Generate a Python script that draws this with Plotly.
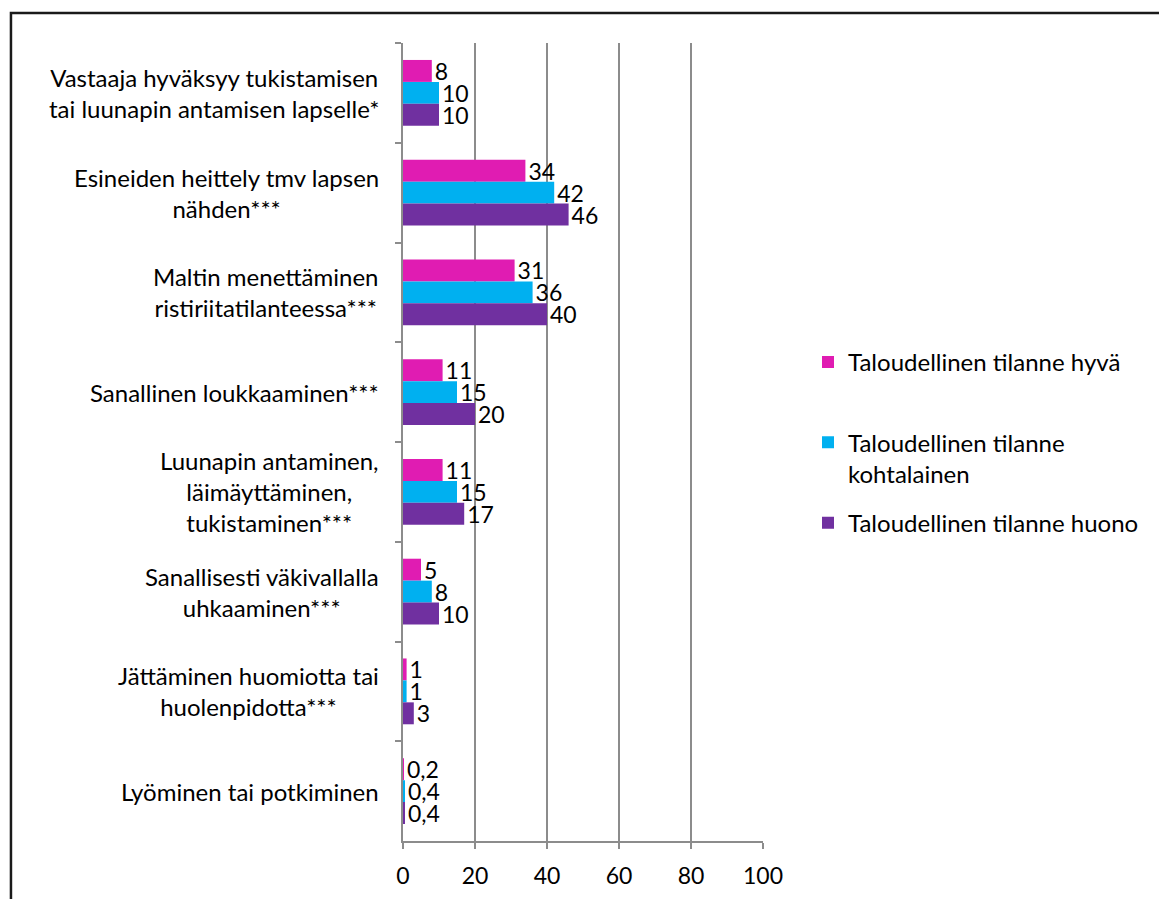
import plotly.graph_objects as go

categories = [
    "Vastaaja hyväksyy tukistamisen<br>tai luunapin antamisen lapselle*",
    "Esineiden heittely tmv lapsen<br>nähden***",
    "Maltin menettäminen<br>ristiriitatilanteessa***",
    "Sanallinen loukkaaminen***",
    "Luunapin antaminen,<br>läimäyttäminen,<br>tukistaminen***",
    "Sanallisesti väkivallalla<br>uhkaaminen***",
    "Jättäminen huomiotta tai<br>huolenpidotta***",
    "Lyöminen tai potkiminen",
]
series_names = [
    "Taloudellinen tilanne hyvä<br> ",
    "Taloudellinen tilanne<br>kohtalainen",
    "Taloudellinen tilanne huono",
]
hyva = [8, 34, 31, 11, 11, 5, 1, 0.2]
kohtalainen = [10, 42, 36, 15, 15, 8, 1, 0.4]
huono = [10, 46, 40, 20, 17, 10, 3, 0.4]
colors = ["#E01CB2", "#00B0F0", "#7030A0"]
x_ticks = [0, 20, 40, 60, 80, 100]

FONT = "Lato"
FS = 24
FS_LBL = 23


def fmt(v):
    return f"{v:g}".replace(".", ",")


fig = go.Figure()
for name, vals, col in zip(series_names, [hyva, kohtalainen, huono], colors):
    fig.add_trace(go.Bar(
        y=categories, x=vals, name=name, orientation="h",
        marker=dict(color=col, line=dict(width=0)),
        text=[fmt(v) for v in vals], textposition="outside",
        textfont=dict(family=FONT, size=FS_LBL, color="black"),
        constraintext="none", cliponaxis=False,
        legendgroup=name,
    ))

for c in categories:
    fig.add_annotation(
        x=0, y=c, xref="x", yref="y", text=c, showarrow=False,
        xanchor="right", yanchor="middle", align="center", xshift=-22,
        font=dict(family=FONT, size=FS, color="black"),
    )

# outer frame
fig.add_shape(type="rect", xref="paper", yref="paper",
              x0=-1.089, x1=2.2, y0=-0.1, y1=1.0376,
              line=dict(color="#1a1a1a", width=2.5), layer="above")

fig.update_layout(
    width=1167, height=899,
    margin=dict(l=395, r=412, t=35, b=66),
    paper_bgcolor="white", plot_bgcolor="white",
    barmode="group", bargap=0.34, bargroupgap=0,
    font=dict(family=FONT, size=FS, color="black"),
    legend=dict(x=1.125, xanchor="left", y=0.628, yanchor="top",
                font=dict(family=FONT, size=FS, color="black"),
                tracegroupgap=15, valign="top", bgcolor="rgba(0,0,0,0)"),
    xaxis=dict(range=[0, 100], tickvals=x_ticks, showgrid=True,
               gridcolor="#8c8c8c", gridwidth=2, showline=True,
               linecolor="#8c8c8c", linewidth=2, ticks="outside",
               ticklen=6, tickcolor="#8c8c8c", tickwidth=2, zeroline=False,
               ticklabelstandoff=7,
               tickfont=dict(family=FONT, size=FS_LBL, color="black")),
    yaxis=dict(type="category", autorange="reversed", showticklabels=False,
               showline=True, linecolor="#8c8c8c", linewidth=2,
               ticks="outside", tickson="boundaries", ticklen=6,
               tickcolor="#8c8c8c", tickwidth=2, showgrid=False),
)

fig.write_html("out.html")
